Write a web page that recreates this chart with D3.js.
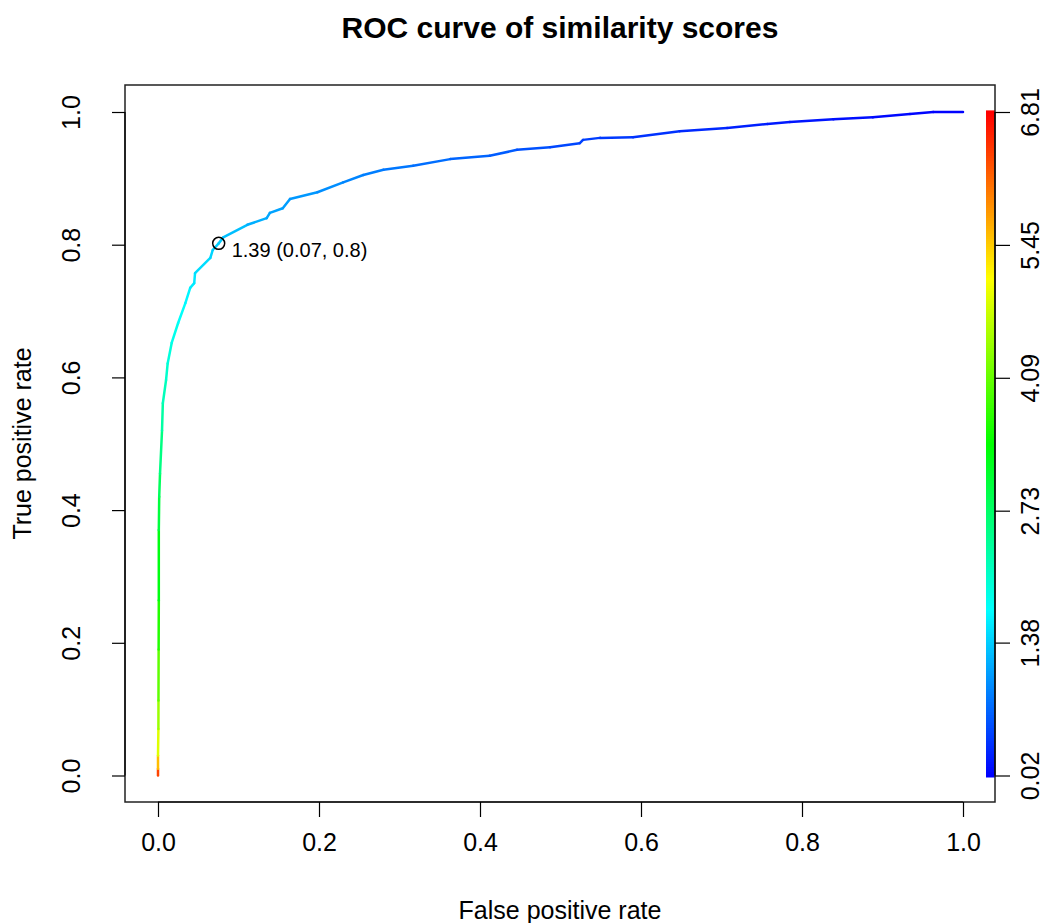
<!DOCTYPE html>
<html>
<head>
<meta charset="utf-8">
<script src="https://cdn.jsdelivr.net/npm/d3@7"></script>
<style>
  body { margin: 0; background: #fff; }
  text { font-family: "Liberation Sans", Arial, Helvetica, sans-serif; fill: #000; }
</style>
</head>
<body>
<div id="chart"></div>
<script>
// ROC points
const fpr = [0, 0, 0, 0.0005, 0.0006, 0.0008, 0.001, 0.001, 0.0015, 0.0025,
  0.005, 0.006, 0.010, 0.012, 0.017, 0.025, 0.034, 0.040, 0.045, 0.046,
  0.065, 0.068, 0.0754, 0.081, 0.111, 0.135, 0.139, 0.155, 0.164, 0.198,
  0.230, 0.255, 0.280, 0.317, 0.363, 0.412, 0.446, 0.487, 0.524, 0.528,
  0.549, 0.590, 0.648, 0.707, 0.757, 0.785, 0.839, 0.888, 0.934, 0.963, 1.0];
const tpr = [0, 0.01, 0.03, 0.07, 0.113, 0.19, 0.264, 0.37, 0.42, 0.455,
  0.52, 0.561, 0.596, 0.621, 0.652, 0.682, 0.712, 0.735, 0.742, 0.757,
  0.78, 0.792, 0.802, 0.811, 0.83, 0.84, 0.848, 0.855, 0.869, 0.879,
  0.894, 0.905, 0.913, 0.919, 0.929, 0.934, 0.943, 0.947, 0.953, 0.958,
  0.961, 0.962, 0.971, 0.976, 0.982, 0.985, 0.989, 0.992, 0.997, 1.0, 1.0];
const cutoff = [6.81, 5.9, 5.2, 4.6, 4.3, 3.8, 3.5, 3.1, 2.9, 2.7,
  2.4, 2.25, 2.1, 2.0, 1.9, 1.8, 1.7, 1.62, 1.58, 1.53,
  1.45, 1.42, 1.39, 1.36, 1.22, 1.15, 1.12, 1.09, 1.06, 1.0,
  0.93, 0.88, 0.84, 0.78, 0.72, 0.66, 0.6, 0.52, 0.46, 0.45,
  0.42, 0.38, 0.32, 0.26, 0.21, 0.18, 0.14, 0.1, 0.06, 0.04, 0.02];

const axisTicks = [0, 0.2, 0.4, 0.6, 0.8, 1.0];
const keyTicks = [0.02, 1.38, 2.73, 4.09, 5.45, 6.81];
// marked cutoff: fpr, tpr, label
const markPoint = [0.0754, 0.802];
const markLabel = "1.39 (0.07, 0.8)";

const width = 1056;
const height = 923;
const box = { left: 125, right: 995, top: 85, bottom: 802 };

const x = d3.scaleLinear().domain([0, 1]).range([158, 963]);
const y = d3.scaleLinear().domain([0, 1]).range([775.5, 112]);
const k = d3.scaleLinear().domain([0.02, 6.81]).range([775.5, 112]);
const hue = d3.scaleLinear().domain([0.02, 6.81]).range([240, 0]).clamp(true);
const col = v => d3.hsl(hue(v), 1, 0.5).toString();

const svg = d3.select("#chart").append("svg")
  .attr("width", width)
  .attr("height", height);

// colour key on the right
const steps = d3.range(256).map(i => 0.02 + (6.79 * i) / 255);
svg.append("g")
  .selectAll("rect")
  .data(steps)
  .join("rect")
  .attr("x", 986)
  .attr("width", 9)
  .attr("y", d => k(d) - 1.6)
  .attr("height", 3.6)
  .attr("fill", d => col(d));

// ROC curve, one segment per step coloured by cutoff
const pts = fpr.map((f, i) => ({ f: f, t: tpr[i], c: cutoff[i] }));
const line = d3.line().x(d => x(d.f)).y(d => y(d.t));
svg.append("g")
  .selectAll("path")
  .data(d3.pairs(pts))
  .join("path")
  .attr("d", d => line(d))
  .attr("fill", "none")
  .attr("stroke", d => col((d[0].c + d[1].c) / 2))
  .attr("stroke-width", 2.5)
  .attr("stroke-linecap", "round");

// plot box
svg.append("rect")
  .attr("x", box.left)
  .attr("y", box.top)
  .attr("width", box.right - box.left)
  .attr("height", box.bottom - box.top)
  .attr("fill", "none")
  .attr("stroke", "#222")
  .attr("stroke-width", 1.5);

// bottom axis
const xAxis = svg.append("g").attr("transform", `translate(0,${box.bottom})`)
  .call(d3.axisBottom(x).tickValues(axisTicks).tickFormat(d3.format(".1f"))
    .tickSize(15).tickPadding(20));
xAxis.select(".domain").attr("d", `M${x(0)},0H${x(1)}`).attr("stroke-width", 1.2);
xAxis.selectAll("line").attr("stroke-width", 1.2);
xAxis.selectAll("text").attr("font-size", 25).attr("dy", "0.55em");

// left axis
const yAxis = svg.append("g").attr("transform", `translate(${box.left},0)`)
  .call(d3.axisLeft(y).tickValues(axisTicks).tickFormat(d3.format(".1f"))
    .tickSize(13));
yAxis.select(".domain").attr("d", `M0,${y(0)}V${y(1)}`).attr("stroke-width", 1.2);
yAxis.selectAll("line").attr("stroke-width", 1.2);
yAxis.selectAll("text")
  .attr("font-size", 25)
  .attr("x", null).attr("dy", null)
  .attr("text-anchor", "middle")
  .attr("transform", "translate(-45,0) rotate(-90)")
  .attr("y", 0);

// right axis for the colour key
const kAxis = svg.append("g").attr("transform", `translate(${box.right},0)`)
  .call(d3.axisRight(k).tickValues(keyTicks).tickFormat(d3.format(".2f"))
    .tickSize(15));
kAxis.select(".domain").attr("d", `M0,${k(0.02)}V${k(6.81)}`).attr("stroke-width", 1.2);
kAxis.selectAll("line").attr("stroke-width", 1.2);
kAxis.selectAll("text")
  .attr("font-size", 25)
  .attr("x", null).attr("dy", null)
  .attr("text-anchor", "middle")
  .attr("transform", "translate(44,0) rotate(-90)")
  .attr("y", 0);

// marked point
svg.append("circle")
  .attr("cx", x(markPoint[0]))
  .attr("cy", y(markPoint[1]))
  .attr("r", 6)
  .attr("fill", "none")
  .attr("stroke", "#000")
  .attr("stroke-width", 1.5);

svg.append("text")
  .attr("x", x(markPoint[0]) + 13)
  .attr("y", y(markPoint[1]) + 14)
  .attr("font-size", 20)
  .text(markLabel);

// titles
svg.append("text")
  .attr("x", (box.left + box.right) / 2)
  .attr("y", 38)
  .attr("text-anchor", "middle")
  .attr("font-size", 30)
  .attr("font-weight", "bold")
  .text("ROC curve of similarity scores");

svg.append("text")
  .attr("x", (box.left + box.right) / 2)
  .attr("y", 919)
  .attr("text-anchor", "middle")
  .attr("font-size", 25)
  .text("False positive rate");

svg.append("text")
  .attr("transform", `translate(31,${(box.top + box.bottom) / 2}) rotate(-90)`)
  .attr("text-anchor", "middle")
  .attr("font-size", 25)
  .text("True positive rate");
</script>
</body>
</html>
